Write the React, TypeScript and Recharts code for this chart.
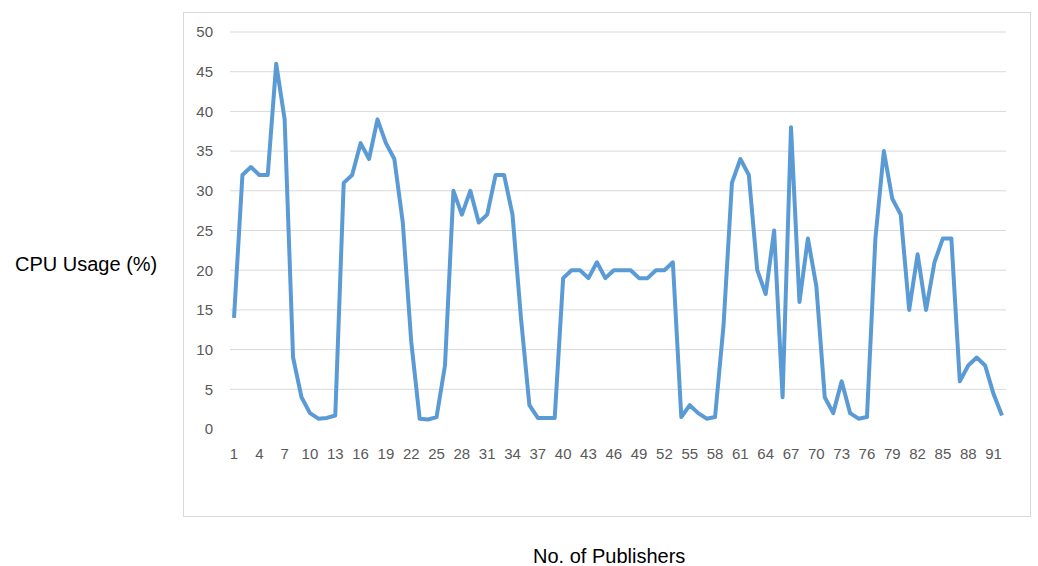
import type { ReactNode } from 'react';
import { LineChart, Line, XAxis, YAxis, CartesianGrid } from 'recharts';

// publishers 1..92
const publishers: number[] = Array.from({ length: 92 }, (_, i) => i + 1);

// CPU usage (%), one per publisher count
const cpuUsage: number[] = [
  14, 32, 33, 32, 32, 46, 39, 9, 4, 2,
  1.3, 1.4, 1.7, 31, 32, 36, 34, 39, 36, 34,
  26, 11, 1.3, 1.2, 1.5, 8, 30, 27, 30, 26,
  27, 32, 32, 27, 14, 3, 1.4, 1.4, 1.4, 19,
  20, 20, 19, 21, 19, 20, 20, 20, 19, 19,
  20, 20, 21, 1.5, 3, 2, 1.3, 1.5, 13, 31,
  34, 32, 20, 17, 25, 4, 38, 16, 24, 18,
  4, 2, 6, 2, 1.3, 1.5, 24, 35, 29, 27,
  15, 22, 15, 21, 24, 24, 6, 8, 9, 8,
  4.4, 1.7,
];

const yTicks: number[] = [0, 5, 10, 15, 20, 25, 30, 35, 40, 45, 50];
const gridValues: number[] = yTicks.filter((t) => t > 0);

const data = publishers.map((p, i) => ({ name: String(p), cpu: cpuUsage[i] }));

const FONT = '"Liberation Sans", Arial, sans-serif';

export default function App(): ReactNode {
  return (
    <div
      style={{
        position: 'absolute',
        left: 0,
        top: 0,
        width: 1038,
        height: 566,
        background: '#fff',
        fontFamily: FONT,
      }}
    >
      <div
        style={{
          position: 'absolute',
          left: 183,
          top: 12,
          width: 848,
          height: 505,
          border: '1px solid #d9d9d9',
          boxSizing: 'border-box',
        }}
      />
      <div style={{ position: 'absolute', left: 0, top: 0 }}>
        <LineChart
          width={1038}
          height={566}
          data={data}
          margin={{ top: 32, right: 32, left: 200, bottom: 107 }}
        >
          <CartesianGrid vertical={false} stroke="#d9d9d9" horizontalValues={gridValues} />
          <XAxis
            dataKey="name"
            height={30}
            interval={2}
            axisLine={false}
            tickLine={false}
            tickSize={0}
            tickMargin={19}
            padding={{ left: 4, right: 4 }}
            tick={{ fill: '#595959', fontSize: 15, fontFamily: FONT }}
          />
          <YAxis
            width={30}
            domain={[0, 50]}
            ticks={yTicks}
            axisLine={false}
            tickLine={false}
            tickSize={0}
            tickMargin={17}
            tick={{ fill: '#595959', fontSize: 15, fontFamily: FONT }}
          />
          <Line
            type="linear"
            dataKey="cpu"
            stroke="#5b9bd5"
            strokeWidth={4}
            strokeLinejoin="round"
            dot={false}
            isAnimationActive={false}
          />
        </LineChart>
      </div>
      <div
        style={{
          position: 'absolute',
          left: 15,
          top: 253,
          fontSize: 20,
          color: '#000',
          whiteSpace: 'nowrap',
        }}
      >
        CPU Usage (%)
      </div>
      <div
        style={{
          position: 'absolute',
          left: 533,
          top: 545,
          fontSize: 20,
          color: '#000',
          whiteSpace: 'nowrap',
        }}
      >
        No. of Publishers
      </div>
    </div>
  );
}
